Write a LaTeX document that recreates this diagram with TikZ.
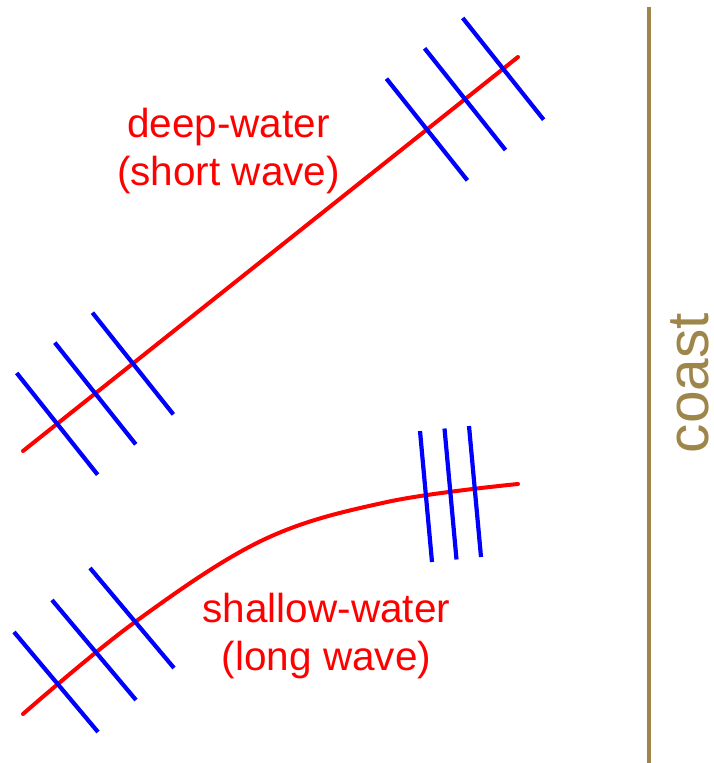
\documentclass[tikz,border=0pt]{standalone}
\usepackage{fontspec}
\setmainfont{Liberation Sans}
\usepackage{tikz}
\usetikzlibrary{calc}
\definecolor{wavered}{RGB}{255, 0, 0}
\definecolor{crestblue}{RGB}{0, 0, 255}
\definecolor{coastbrown}{RGB}{158, 134, 75}

\begin{document}
\begin{tikzpicture}[x=1pt, y=-1pt,
    ray/.style={line width=4pt, wavered, line cap=round},
    crest/.style={line width=4.2pt, crestblue},
    label/.style={font=\fontsize{40.5}{48}\selectfont, text=wavered, inner sep=0pt, align=center}]
    \useasboundingbox (0,0) rectangle (713,763);

    % Coast
    \coordinate (C1) at (649,7);
    \coordinate (C2) at (649,763);
    \draw[line width=4.5pt, coastbrown] (C1) -- (C2);
    \node[rotate=90, anchor=base, inner sep=0pt, text=coastbrown,
          font=\fontsize{58.6}{60}\selectfont] (coast) at (708,383) {coast};

    % Deep-water ray and its crests
    \coordinate (DA) at (23,451);
    \coordinate (DB) at (518,57);
    \draw[ray] (DA) -- (DB);
    \foreach \t in {0.069,0.146,0.222,0.816,0.893,0.970}
        \draw[crest] ($(DA)!\t!(DB)!65pt!90:(DB)$) -- ($(DA)!\t!(DB)!65pt!-90:(DB)$);
    \node[label, anchor=base] (deep) at (228.5,185) {deep-water\\(short wave)};

    % Shallow-water ray, bending towards the coast
    \coordinate (SA) at (23,714);
    \coordinate (SB) at (518,484);
    \draw[ray] plot[smooth, tension=0.6] coordinates {(SA) (135,622) (263,540) (387,502) (SB)};
    \foreach \cx/\cy in {56/682, 94/650, 132/618}
        \draw[crest] (\cx,\cy) ++(-42,-50) -- ++(84,100);
    \foreach \cx/\cy in {426/496.5, 450.5/494, 475/491.5}
        \draw[crest] (\cx,\cy) ++(-6,-65.5) -- ++(12,131);
    \node[label, anchor=base] (shallow) at (326.5,670) {shallow-water\\(long wave)};
\end{tikzpicture}
\end{document}
